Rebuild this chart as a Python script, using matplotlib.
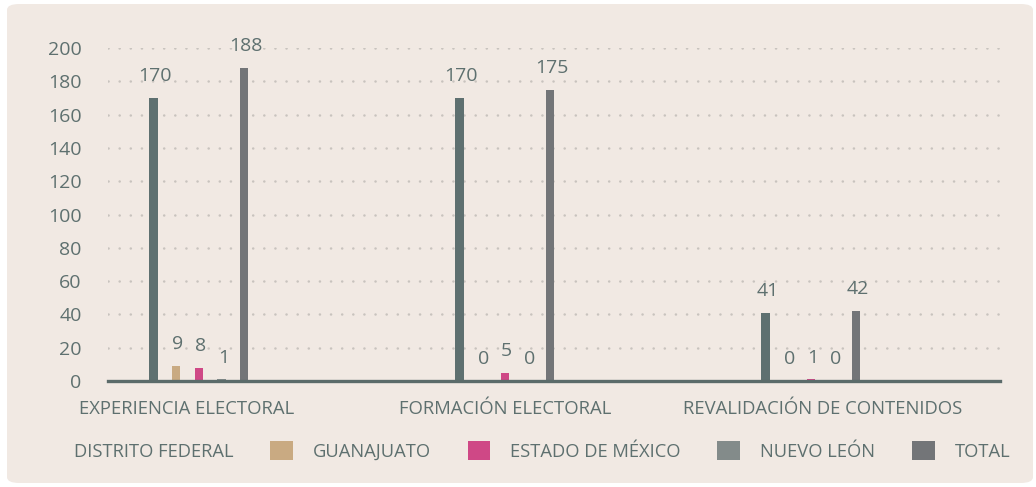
import matplotlib.pyplot as plt
import numpy as np
from matplotlib.patches import FancyBboxPatch, Patch

plt.rcParams['font.family'] = ['Open Sans', 'DejaVu Sans']

categories = ["EXPERIENCIA ELECTORAL", "FORMACIÓN ELECTORAL", "REVALIDACIÓN DE CONTENIDOS"]
series = ["DISTRITO FEDERAL", "GUANAJUATO", "ESTADO DE MÉXICO", "NUEVO LEÓN", "TOTAL"]
distrito_federal = [170, 170, 41]
guanajuato = [9, 0, 0]
estado_mexico = [8, 5, 1]
nuevo_leon = [1, 0, 0]
total = [188, 175, 42]
yticks = [0, 20, 40, 60, 80, 100, 120, 140, 160, 180, 200]

values = [distrito_federal, guanajuato, estado_mexico, nuevo_leon, total]
colors = ["#5e7070", "#c9aa82", "#cf4886", "#838b8a", "#737578"]
text_color = "#5e706f"
bg = "#f1e9e3"

fig = plt.figure(figsize=(10.36, 4.87), dpi=100)
fig.patch.set_facecolor("white")
panel = FancyBboxPatch((7 / 1036, 4 / 487), 1026 / 1036, 479 / 487,
                       boxstyle="round,pad=0,rounding_size=0.012",
                       transform=fig.transFigure, facecolor=bg, edgecolor="none",
                       zorder=-10)
fig.patches.append(panel)

ax = fig.add_axes([108 / 1036, 1 - 381 / 487, 892 / 1036, 333 / 487])
ax.set_facecolor("none")

x = np.arange(len(categories))
step = 0.0742
width = 0.027
for i, (vals, c) in enumerate(zip(values, colors)):
    pos = x + (i - 2) * step
    ax.bar(pos, vals, width=width, color=c, zorder=3)
    for px, v in zip(pos, vals):
        ax.text(px + 0.006, v + 13, str(v), ha="center", va="center",
                fontsize=14, color=text_color, zorder=4)

ax.set_xlim(-0.297, 2.618)
ax.set_ylim(0, 200)
ax.set_yticks(yticks)
ax.tick_params(axis="y", length=0, pad=19, labelsize=14, labelcolor=text_color)
# category labels sit slightly wider apart than the bar groups
ax.set_xticks(np.linspace(-0.039, 2.039, len(categories)))
ax.set_xticklabels(categories)
ax.tick_params(axis="x", length=0, pad=14, labelsize=13.3, labelcolor=text_color)

for y in yticks[1:]:
    ax.axhline(y, color="#c8c3be", linewidth=1.8, linestyle=(0, (0.05, 4.4)),
               dash_capstyle="round", zorder=1)

for s in ["top", "right", "left"]:
    ax.spines[s].set_visible(False)
ax.spines["bottom"].set_color("#5b6b6a")
ax.spines["bottom"].set_linewidth(2.4)
ax.spines["bottom"].set_zorder(5)

handles = [Patch(facecolor="none", edgecolor="none")] + \
          [Patch(facecolor=c, edgecolor="none") for c in colors[1:]]
leg = fig.legend(handles, series, loc="center left",
                 bbox_to_anchor=(31 / 1036, 1 - 451 / 487), ncol=5,
                 frameon=False, fontsize=13.2, handlelength=1.25, handleheight=1.25,
                 handletextpad=1.08, columnspacing=2.0, borderpad=0, borderaxespad=0)
for t in leg.get_texts():
    t.set_color(text_color)

fig.savefig("out.png", dpi=100, facecolor=fig.get_facecolor())
